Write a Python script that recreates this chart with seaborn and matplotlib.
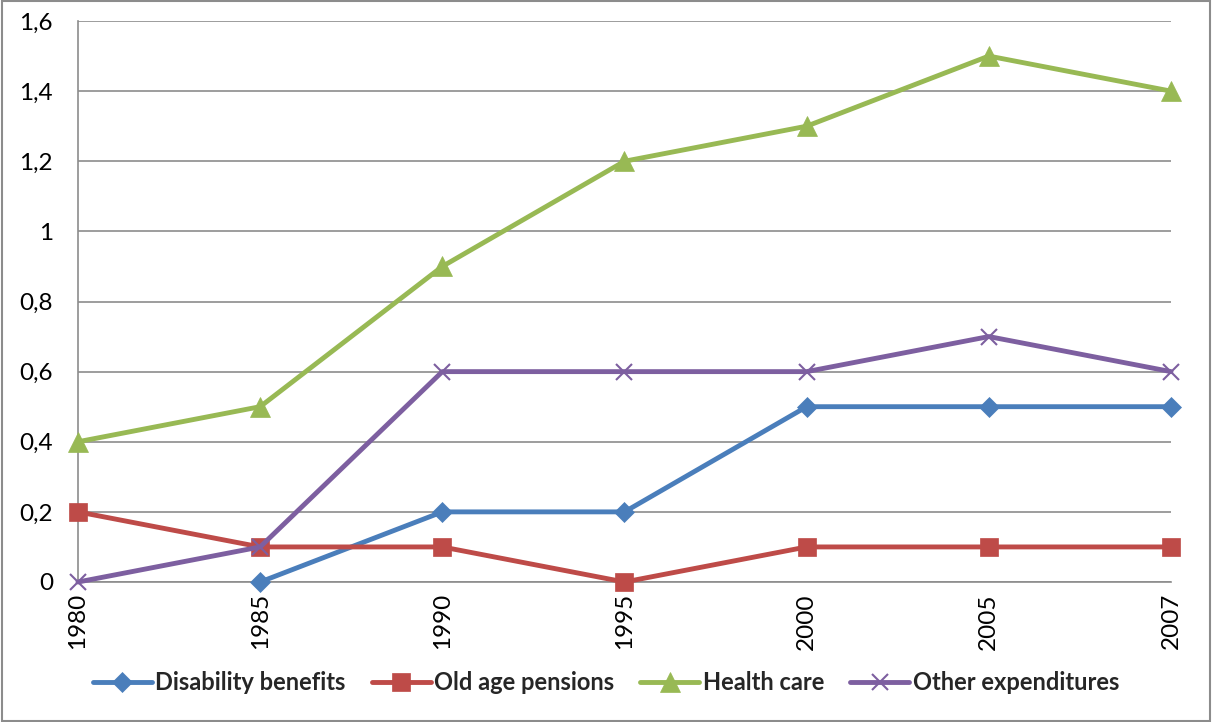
import numpy as np
import pandas as pd
import matplotlib
matplotlib.use("Agg")
import matplotlib.pyplot as plt
import seaborn as sns
from matplotlib.patches import Rectangle

years = ["1980", "1985", "1990", "1995", "2000", "2005", "2007"]
disability = [np.nan, 0.0, 0.2, 0.2, 0.5, 0.5, 0.5]
old_age = [0.2, 0.1, 0.1, 0.0, 0.1, 0.1, 0.1]
health = [0.4, 0.5, 0.9, 1.2, 1.3, 1.5, 1.4]
other = [0.0, 0.1, 0.6, 0.6, 0.6, 0.7, 0.6]
series_names = ["Disability benefits", "Old age pensions", "Health care", "Other expenditures"]

sns.set_theme(style="white")
plt.rcParams['font.family'] = ['Lato', 'DejaVu Sans']

fig = plt.figure(figsize=(12.12, 7.22), dpi=100)
ax = fig.add_axes([78/1212, 1-582/722, (1171-78)/1212, (582-21)/722])

pos = np.arange(len(years))
styles = [
    (disability, "#4A7EBB", "D", 10),
    (old_age, "#BE4B48", "s", 13),
    (health, "#98B954", "^", 14),
    (other, "#7D5FA0", "x", 12),
]
for (vals, col, mk, ms), name in zip(styles, series_names):
    sns.lineplot(x=pos, y=vals, ax=ax, color=col, marker=mk, markersize=ms,
                 linewidth=3.5, label=name, markeredgecolor=col,
                 markeredgewidth=1.5 if mk == "x" else 0.5, clip_on=False, zorder=3)

ax.set_xlim(0, len(years) - 1)
ax.set_ylim(0, 1.6)
yt = np.arange(0, 1.61, 0.2)
ax.set_yticks(yt)
ax.set_yticklabels(["0" if v == 0 else ("1" if abs(v-1) < 1e-9 else f"{v:.1f}".replace(".", ",")) for v in yt])
ax.set_xticks(pos)
ax.set_xticklabels(years, rotation=90)
ax.tick_params(axis='both', labelsize=17.5, colors="black", length=0)
ax.tick_params(axis='y', pad=18)
ax.tick_params(axis='x', pad=8)
ax.yaxis.grid(True, color="#8C8C8C", linewidth=1.2)
ax.set_axisbelow(True)
for s in ["top", "right"]:
    ax.spines[s].set_visible(False)
for s in ["left", "bottom"]:
    ax.spines[s].set_color("#8C8C8C")
    ax.spines[s].set_linewidth(1.2)
ax.set_xlabel("")
ax.set_ylabel("")

leg = ax.legend(loc="center", bbox_to_anchor=(0.5, 1-683/722), bbox_transform=fig.transFigure,
                ncol=4, frameon=False, prop={'weight': 'bold', 'size': 17},
                handlelength=2.5, handletextpad=0.15, columnspacing=1.1)
fig.add_artist(Rectangle((0.002, 0.002), 0.996, 0.996, transform=fig.transFigure,
                         fill=False, edgecolor="#8C8C8C", linewidth=1.5))
fig.savefig("out.png", dpi=100)
